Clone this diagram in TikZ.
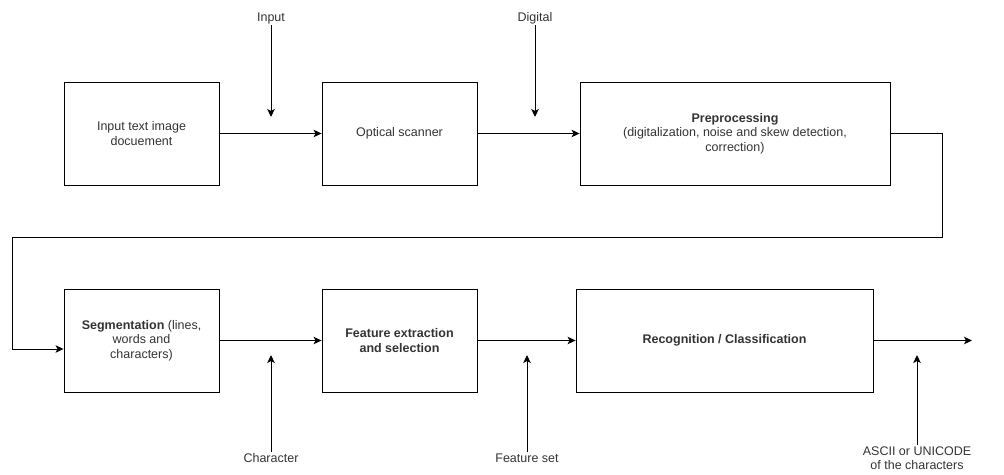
\documentclass[tikz,border=0pt]{standalone}
\usepackage{fontspec}
\setmainfont{Liberation Sans}
\usetikzlibrary{arrows.meta}
\definecolor{textgrey}{rgb}{0.2,0.2,0.2}

\begin{document}
\begin{tikzpicture}[>={Stealth[length=8pt,width=7.5pt,inset=2pt]},x=1pt,y=-1pt,line width=0.9pt,
  stage/.style={draw,minimum width=155pt,minimum height=103pt,align=center,text=textgrey,font=\fontsize{12.5}{14.5}\selectfont},
  tag/.style={align=center,text=textgrey,inner sep=1pt,font=\fontsize{12.5}{14.5}\selectfont}]
\useasboundingbox (0,0) rectangle (1004,474);
% first row
\node[stage] (doc) at (141.5,133.5) {Input text image\\docuement};
\node[stage] (scan) at (399.5,133.5) {Optical scanner};
\node[stage,minimum width=310pt] (pre) at (735,133.5) {\textbf{Preprocessing}\\(digitalization, noise and skew detection,\\correction)};
% second row
\node[stage] (seg) at (141.5,340.5) {\textbf{Segmentation} (lines,\\words and\\characters)};
\node[stage] (feat) at (399.5,340.5) {\textbf{Feature extraction}\\\textbf{and selection}};
\node[stage,minimum width=297pt] (rec) at (724.5,340.5) {\textbf{Recognition / Classification}};
% side labels
\node[tag] (inlbl) at (271,18) {Input};
\node[tag] (diglbl) at (535,18) {Digital};
\node[tag] (charlbl) at (271,458) {Character};
\node[tag] (fslbl) at (527,458) {Feature set};
\node[tag] (asclbl) at (917,458) {ASCII or UNICODE\\of the characters};
\coordinate (intip) at (271,117);
\coordinate (digtip) at (535,117);
\coordinate (chartip) at (271,355);
\coordinate (fstip) at (527,355);
\coordinate (asctip) at (917,355);
\coordinate (turnR) at (942,237);
\coordinate (turnL) at (12,237);
\coordinate (out) at (972,340.5);
% main flow
\draw[->] (doc) -- (scan);
\draw[->] (scan) -- (pre);
\draw[->] (pre.east) -| (turnR) -- (turnL) |- ([yshift=-8.5pt]seg.west);
\draw[->] (seg) -- (feat);
\draw[->] (feat) -- (rec);
\draw[->] (rec) -- (out);
% inputs and outputs
\draw[->] (inlbl.south) -- (intip);
\draw[->] (diglbl.south) -- (digtip);
\draw[->] (charlbl.north) -- (chartip);
\draw[->] (fslbl.north) -- (fstip);
\draw[->] (asclbl.north) -- (asctip);
\end{tikzpicture}
\end{document}
